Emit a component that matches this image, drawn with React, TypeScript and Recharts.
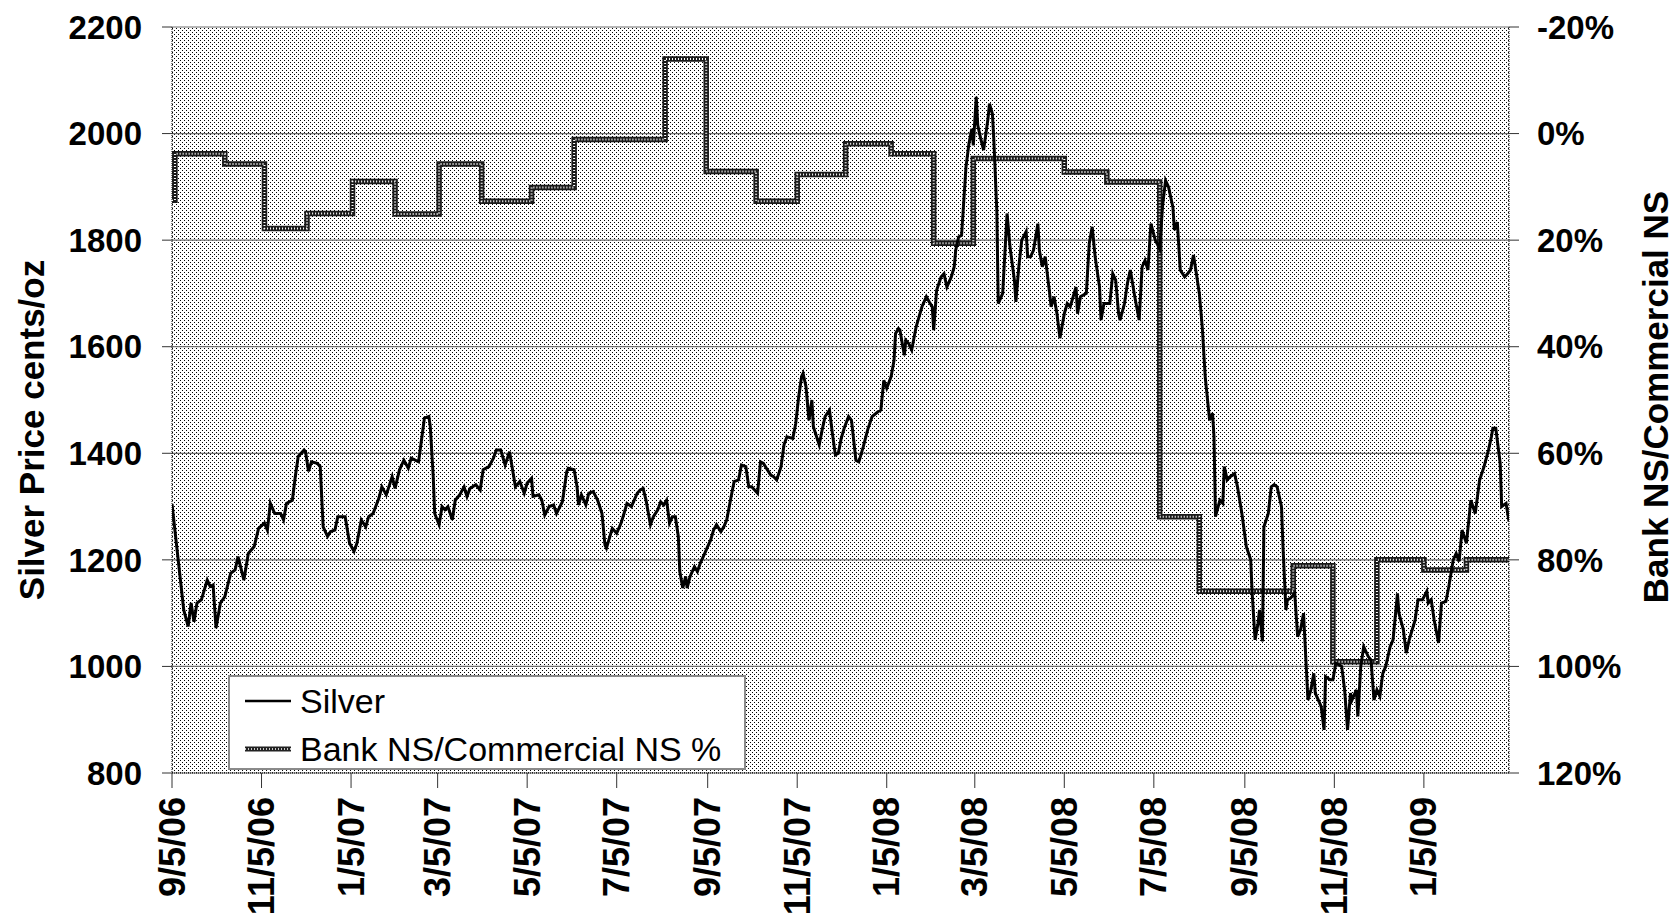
import React from 'react';
import { LineChart, Line, XAxis, YAxis, CartesianGrid, Legend } from 'recharts';

const FONT = 'Arial, "Liberation Sans", Helvetica, sans-serif';
const START = Date.UTC(2006, 8, 5);
const DAY = 86400000;

// x axis: a tick every two months, plot ends on 3/4/09
const tickDates = ['9/5/06', '11/5/06', '1/5/07', '3/5/07', '5/5/07', '7/5/07', '9/5/07', '11/5/07', '1/5/08', '3/5/08', '5/5/08', '7/5/08', '9/5/08', '11/5/08', '1/5/09'];
const lastDay = 911;

const priceTicks = [800, 1000, 1200, 1400, 1600, 1800, 2000, 2200];
const pctTicks = [-20, 0, 20, 40, 60, 80, 100, 120];

// silver price: [days since 9/5/06, cents/oz]
const silver: [number, number][] = [
  [0, 1305], [8, 1106], [11, 1075], [13, 1119], [15, 1084], [17, 1119], [20, 1125], [24, 1162], [26, 1150], [28, 1153],
  [30, 1072], [33, 1119], [36, 1131], [40, 1175], [43, 1181], [45, 1206], [49, 1162], [52, 1212], [56, 1225], [59, 1259],
  [63, 1269], [65, 1256], [67, 1306], [70, 1287], [74, 1287], [76, 1275], [78, 1306], [82, 1312], [84, 1356], [86, 1394],
  [90, 1406], [91, 1403], [93, 1366], [95, 1384], [99, 1381], [101, 1375], [103, 1262], [106, 1244], [108, 1253], [111, 1256],
  [113, 1281], [118, 1281], [121, 1231], [124, 1216], [126, 1231], [129, 1275], [132, 1262], [134, 1281], [137, 1287], [141, 1316],
  [143, 1337], [146, 1322], [150, 1356], [152, 1334], [155, 1369], [158, 1387], [161, 1372], [163, 1391], [168, 1384], [170, 1425],
  [172, 1466], [175, 1469], [176, 1450], [178, 1356], [179, 1287], [182, 1266], [184, 1300], [186, 1294], [188, 1300], [191, 1275],
  [193, 1312], [196, 1322], [199, 1337], [201, 1319], [203, 1334], [207, 1341], [210, 1331], [212, 1369], [216, 1375], [219, 1391],
  [221, 1406], [224, 1406], [227, 1378], [230, 1403], [234, 1337], [237, 1347], [240, 1325], [242, 1344], [245, 1353], [246, 1319],
  [250, 1322], [252, 1312], [254, 1284], [257, 1300], [260, 1303], [262, 1287], [266, 1309], [269, 1366], [270, 1372], [274, 1369],
  [276, 1337], [277, 1303], [279, 1322], [282, 1303], [284, 1325], [287, 1328], [290, 1312], [293, 1287], [295, 1228], [296, 1222],
  [300, 1259], [303, 1250], [306, 1269], [308, 1287], [310, 1306], [313, 1300], [317, 1325], [319, 1331], [321, 1334], [323, 1312],
  [326, 1266], [328, 1281], [331, 1294], [333, 1309], [335, 1303], [337, 1312], [339, 1269], [341, 1281], [343, 1281], [345, 1244],
  [346, 1178], [348, 1147], [350, 1169], [351, 1147], [353, 1169], [356, 1187], [358, 1178], [360, 1194], [362, 1206], [365, 1225],
  [367, 1237], [369, 1256], [371, 1266], [374, 1253], [376, 1262], [378, 1275], [381, 1319], [383, 1347], [386, 1350], [388, 1378],
  [391, 1375], [393, 1337], [395, 1337], [399, 1325], [401, 1384], [403, 1381], [405, 1372], [408, 1359], [410, 1356], [412, 1350],
  [415, 1375], [417, 1416], [419, 1431], [423, 1428], [425, 1456], [427, 1506], [429, 1544], [430, 1550], [432, 1525], [434, 1462],
  [436, 1500], [437, 1450], [441, 1416], [443, 1444], [445, 1469], [448, 1481], [450, 1437], [452, 1397], [454, 1400], [456, 1428],
  [458, 1447], [461, 1469], [463, 1462], [466, 1387], [468, 1384], [471, 1412], [474, 1444], [477, 1469], [481, 1478], [483, 1481],
  [485, 1537], [487, 1522], [490, 1544], [492, 1575], [493, 1625], [495, 1634], [496, 1631], [499, 1584], [500, 1612], [502, 1606],
  [504, 1594], [507, 1637], [509, 1656], [511, 1675], [514, 1694], [516, 1684], [518, 1675], [519, 1631], [521, 1706], [524, 1731],
  [526, 1737], [528, 1712], [531, 1731], [533, 1750], [534, 1781], [536, 1806], [538, 1809], [541, 1937], [543, 1981], [545, 2009],
  [546, 1978], [548, 2069], [549, 2016], [551, 1991], [553, 1969], [556, 2028], [557, 2056], [559, 2037], [560, 1987], [562, 1856],
  [563, 1681], [566, 1700], [567, 1750], [569, 1850], [571, 1787], [574, 1725], [575, 1684], [577, 1750], [579, 1800], [582, 1816],
  [583, 1769], [585, 1769], [587, 1781], [590, 1831], [591, 1781], [593, 1750], [595, 1769], [598, 1700], [599, 1675], [601, 1694],
  [603, 1662], [605, 1616], [608, 1662], [610, 1681], [612, 1675], [616, 1712], [617, 1662], [619, 1694], [623, 1700], [625, 1794],
  [627, 1825], [629, 1769], [632, 1712], [633, 1650], [635, 1681], [639, 1681], [641, 1737], [643, 1725], [645, 1662], [646, 1650],
  [649, 1681], [651, 1719], [653, 1744], [656, 1694], [659, 1650], [661, 1750], [663, 1762], [665, 1744], [667, 1831], [670, 1800],
  [673, 1784], [675, 1866], [677, 1912], [679, 1900], [682, 1862], [683, 1819], [685, 1834], [687, 1744], [690, 1731], [692, 1737],
  [694, 1744], [696, 1772], [698, 1737], [700, 1700], [702, 1637], [704, 1544], [707, 1462], [709, 1475], [710, 1431], [711, 1281],
  [714, 1312], [716, 1306], [717, 1375], [719, 1350], [721, 1356], [724, 1362], [726, 1337], [729, 1287], [732, 1225], [735, 1200],
  [736, 1137], [738, 1050], [740, 1081], [741, 1106], [743, 1047], [744, 1262], [747, 1287], [749, 1337], [751, 1341], [753, 1337],
  [756, 1300], [757, 1225], [759, 1106], [760, 1125], [762, 1128], [765, 1137], [767, 1056], [769, 1069], [771, 1100], [774, 937],
  [776, 956], [778, 987], [779, 950], [783, 925], [785, 881], [786, 981], [789, 975], [791, 975], [793, 1006], [797, 1000],
  [799, 956], [801, 881], [803, 950], [804, 937], [807, 956], [808, 906], [810, 1000], [812, 1037], [815, 1019], [817, 1012],
  [819, 937], [821, 956], [823, 944], [825, 987], [827, 1000], [830, 1037], [832, 1050], [835, 1137], [836, 1100], [839, 1069],
  [841, 1025], [843, 1050], [847, 1087], [849, 1125], [852, 1125], [855, 1141], [856, 1119], [858, 1125], [860, 1087], [863, 1044],
  [865, 1119], [868, 1122], [870, 1150], [873, 1200], [875, 1212], [877, 1197], [879, 1256], [882, 1231], [885, 1312], [888, 1287],
  [891, 1350], [894, 1375], [897, 1406], [899, 1431], [900, 1447], [902, 1447], [905, 1381], [906, 1300], [909, 1306], [911, 1272],
];

// bank NS / commercial NS (%), monthly report values: [days since 9/5/06, %]
const bankRatio: [number, number][] = [
  [0, 12.5], [2, 3.8], [36, 5.7], [63, 17.8], [92, 15.0], [123, 9.0], [152, 15.1], [182, 5.7], [211, 12.7], [245, 10.1],
  [274, 1.1], [336, -14.0], [364, 7.1], [398, 12.7], [426, 7.7], [459, 1.9], [490, 3.8], [519, 20.6], [546, 4.7], [608, 7.2],
  [637, 9.1], [673, 71.9], [700, 85.9], [764, 81.1], [791, 99.1], [821, 80.0], [853, 81.9], [882, 80.0], [911, 80.0],
];

const toDay = (s: string) => {
  const [m, d, y] = s.split('/').map(Number);
  return Math.round((Date.UTC(2000 + y, m - 1, d) - START) / DAY);
};
const tickDays = tickDates.map(toDay);
const labelByDay = new Map(tickDays.map((d, i) => [d, tickDates[i]]));

const silverData = silver.map(([day, price]) => ({ day, price }));
const bankData = bankRatio.map(([day, pct]) => ({ day, pct }));

const DateTick = ({ x, y, payload }: any) => (
  <text
    x={x}
    y={y}
    dy="0.35em"
    textAnchor="end"
    transform={`rotate(-90 ${x} ${y})`}
    fontFamily={FONT}
    fontSize={36}
    fontWeight="bold"
    fill="#000"
  >
    {labelByDay.get(payload.value)}
  </text>
);

const AxisTitle = ({ cx, cy, text }: { cx: number; cy: number; text: string }) => (
  <text
    x={cx}
    y={cy}
    dy="0.35em"
    textAnchor="middle"
    transform={`rotate(-90 ${cx} ${cy})`}
    fontFamily={FONT}
    fontSize={35}
    fontWeight="bold"
    fill="#000"
  >
    {text}
  </text>
);

const LegendBox = () => (
  <svg width={518} height={95} style={{ display: 'block' }}>
    <rect x={1} y={1} width={516} height={93} fill="#fff" stroke="#8a8a8a" strokeWidth={2} />
    <line x1={17} x2={63} y1={26} y2={26} stroke="#000" strokeWidth={2.5} />
    <text x={72} y={26} dy="0.35em" fontFamily={FONT} fontSize={34} fill="#000">Silver</text>
    <line x1={17} x2={63} y1={74} y2={74} stroke="#222" strokeWidth={5} />
    <line x1={17} x2={63} y1={74} y2={74} stroke="#fff" strokeWidth={1.5} strokeDasharray="1 2" />
    <text x={72} y={74} dy="0.35em" fontFamily={FONT} fontSize={34} fill="#000">Bank NS/Commercial NS %</text>
  </svg>
);

const tickFont = { fontFamily: FONT, fontSize: 33, fontWeight: 'bold', fill: '#000' };
const dottedEdge = { stroke: '#000', strokeDasharray: '1 1' };

export default function App() {
  return (
    <div style={{ position: 'absolute', left: 0, top: 0, width: 1677, height: 915, background: '#fff' }}>
      <svg width={0} height={0} style={{ position: 'absolute' }}>
        <defs>
          <pattern id="dots" width={4} height={4} patternUnits="userSpaceOnUse">
            <rect width={4} height={4} fill="#fff" />
            <rect x={0} y={0} width={1} height={1} fill="#000" />
            <rect x={2} y={2} width={1} height={1} fill="#000" />
          </pattern>
        </defs>
      </svg>
      <LineChart width={1677} height={915} margin={{ top: 27, right: 0, bottom: 0, left: 0 }}>
        <CartesianGrid yAxisId="left" vertical={false} stroke="#6f6f6f" strokeWidth={1.2} fill="url(#dots)" fillOpacity={1} />
        <XAxis
          type="number"
          dataKey="day"
          domain={[0, lastDay]}
          ticks={tickDays}
          interval={0}
          allowDataOverflow
          height={142}
          tickSize={15}
          tickMargin={9}
          tick={<DateTick />}
          tickLine={{ stroke: '#333' }}
          axisLine={dottedEdge}
        />
        <YAxis
          yAxisId="left"
          domain={[800, 2200]}
          ticks={priceTicks}
          interval={0}
          width={172}
          tickSize={10}
          tickMargin={20}
          tick={tickFont}
          tickLine={{ stroke: '#333' }}
          axisLine={dottedEdge}
          label={(p: any) => (
            <AxisTitle cx={p.viewBox.x + 32} cy={p.viewBox.y + p.viewBox.height / 2 + 30} text="Silver Price cents/oz" />
          )}
        />
        <YAxis
          yAxisId="right"
          orientation="right"
          reversed
          domain={[-20, 120]}
          ticks={pctTicks}
          interval={0}
          width={168}
          tickSize={10}
          tickMargin={18}
          tick={tickFont}
          tickFormatter={(v: number) => `${v}%`}
          tickLine={{ stroke: '#333' }}
          axisLine={dottedEdge}
          label={(p: any) => (
            <AxisTitle cx={p.viewBox.x + 147} cy={p.viewBox.y + p.viewBox.height / 2 - 3} text="Bank NS/Commercial NS" />
          )}
        />
        <Line
          yAxisId="right"
          data={bankData}
          dataKey="pct"
          name="Bank NS/Commercial NS %"
          type="stepAfter"
          stroke="#1a1a1a"
          strokeWidth={5.5}
          dot={false}
          activeDot={false}
          isAnimationActive={false}
        />
        <Line
          yAxisId="right"
          data={bankData}
          dataKey="pct"
          name="bank-inner"
          legendType="none"
          type="stepAfter"
          stroke="#fff"
          strokeWidth={2}
          strokeDasharray="1 2"
          dot={false}
          activeDot={false}
          isAnimationActive={false}
        />
        <Line
          yAxisId="left"
          data={silverData}
          dataKey="price"
          name="Silver"
          type="linear"
          stroke="#000"
          strokeWidth={3}
          dot={false}
          activeDot={false}
          isAnimationActive={false}
        />
        <Legend
          layout="horizontal"
          verticalAlign="middle"
          align="center"
          content={() => <LegendBox />}
          wrapperStyle={{ left: 228, top: 675, width: 518, height: 95 }}
        />
      </LineChart>
    </div>
  );
}
